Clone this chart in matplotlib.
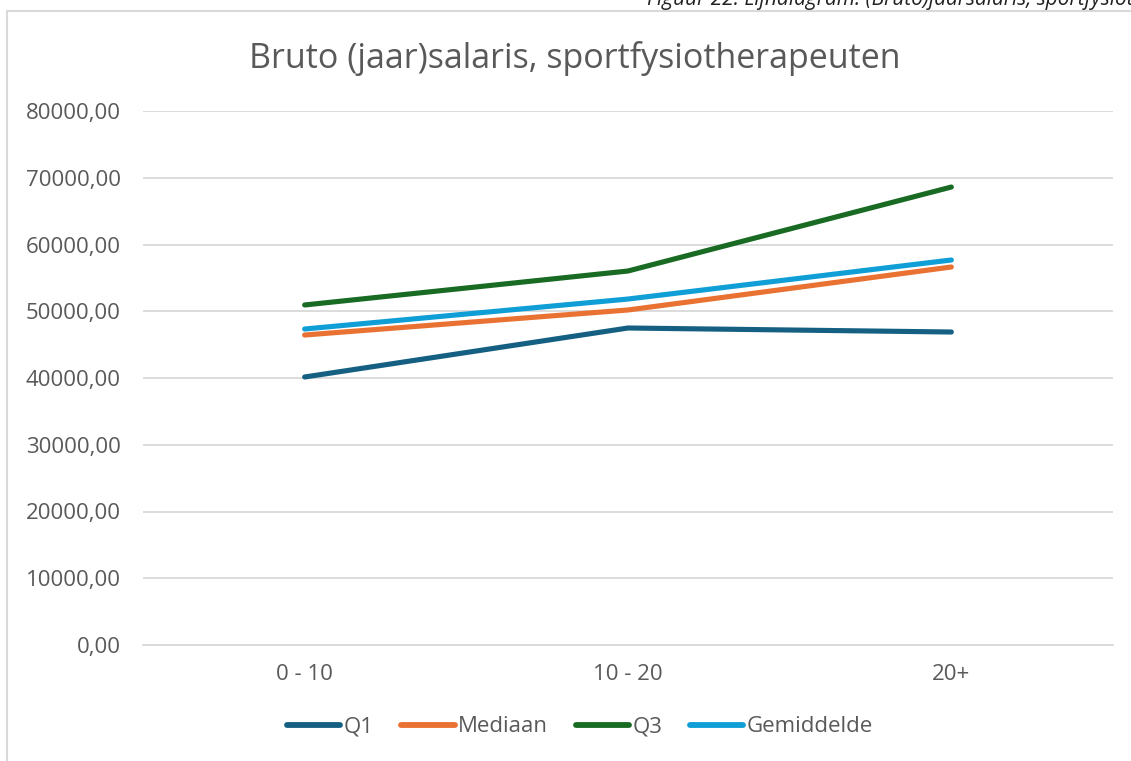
import matplotlib
matplotlib.use("Agg")
import matplotlib.pyplot as plt
from matplotlib.patches import Rectangle
from matplotlib.lines import Line2D

categories = ["0 - 10", "10 - 20", "20+"]
q1 = [40150, 47490, 46890]
mediaan = [46440, 50190, 56630]
q3 = [50940, 56030, 68610]
gemiddelde = [47340, 51830, 57680]
series_names = ["Q1", "Mediaan", "Q3", "Gemiddelde"]
colors = ["#156082", "#E97132", "#196B24", "#0F9ED5"]
yticks = [0, 10000, 20000, 30000, 40000, 50000, 60000, 70000, 80000]

plt.rcParams['font.family'] = ['Open Sans', 'DejaVu Sans']
W, H = 1131, 761
fig = plt.figure(figsize=(W / 100, H / 100), dpi=100)

# outer chart border
fig.patches.append(Rectangle((7 / W, -0.01), 1.1, (H - 11) / H + 0.01,
                             transform=fig.transFigure, fill=False,
                             edgecolor="#D9D9D9", linewidth=1.5))
# caption (clipped at the top-right, as in the source document)
fig.text(647 / W, 1 - 0 / H, "Figuur 22: Lijndiagram: (Bruto)jaarsalaris, sportfysiotherapeuten",
         fontsize=15, style="italic", color="#222222", va="center", ha="left")

ax = fig.add_axes([143 / W, 1 - 645 / H, (1113 - 143) / W, (645 - 111) / H])
x = list(range(len(categories)))
for name, vals, c in zip(series_names, [q1, mediaan, q3, gemiddelde], colors):
    ax.plot(x, vals, color=c, linewidth=3.7, solid_capstyle="round",
            solid_joinstyle="round", label=name, zorder=3)

ax.set_xlim(-0.5, len(categories) - 0.5)
ax.set_ylim(0, 80000)
ax.set_yticks(yticks)
ax.set_yticklabels([f"{v:.2f}".replace(".", ",") for v in yticks])
ax.set_xticks(x)
ax.set_xticklabels(categories)
ax.grid(axis="y", color="#D9D9D9", linewidth=1.3)
ax.set_axisbelow(True)
for s in ["top", "right", "left"]:
    ax.spines[s].set_visible(False)
ax.spines["bottom"].set_color("#D9D9D9")
ax.spines["bottom"].set_linewidth(1.3)
ax.tick_params(axis="both", length=0, labelsize=16, labelcolor="#595959")
ax.tick_params(axis="y", pad=16)
ax.tick_params(axis="x", pad=14)

fig.text(575 / W, 1 - 58 / H, "Bruto (jaar)salaris, sportfysiotherapeuten",
         fontsize=24.5, color="#595959", ha="center", va="center")

handles = [Line2D([0], [0], color=c, linewidth=4.2, solid_capstyle="round") for c in colors]
fig.legend(handles, series_names, loc="center", bbox_to_anchor=(580 / W, 1 - 727 / H),
           ncol=4, frameon=False, fontsize=16, labelcolor="#595959",
           handlelength=2.4, handletextpad=0.15, columnspacing=1.25)

fig.savefig("out.png", dpi=100)
